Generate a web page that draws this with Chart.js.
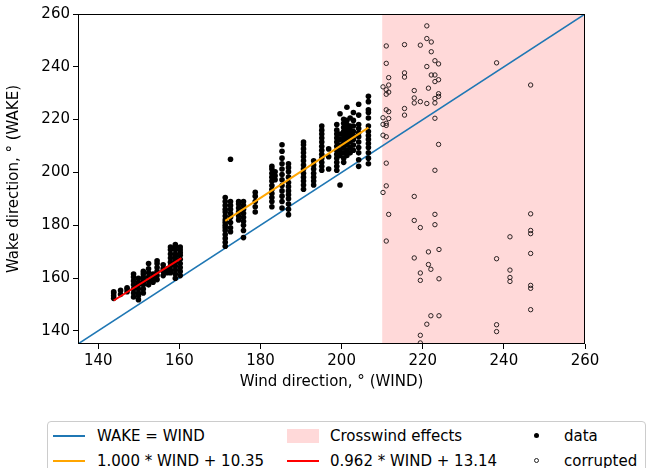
<!DOCTYPE html>
<html lang="en">
<head>
  <meta charset="UTF-8">
  <title>Wake vs wind direction</title>
  <script src="https://cdn.jsdelivr.net/npm/chart.js"></script>
  <style>
    body {
      margin: 0;
      padding: 0;
      background: #ffffff;
      font-family: 'DejaVu Sans', sans-serif;
      overflow: hidden;
    }
    .wrap {
      position: relative;
      width: 654px;
      height: 468px;
    }
    .legend {
      position: absolute;
      left: 47px;
      top: 421px;
      width: 597px;
      height: 60px;
      border: 1px solid #cccccc;
      border-radius: 4px;
      background: #ffffff;
    }
    .item {
      position: absolute;
      font-size: 15px;
      line-height: 18px;
      color: #000;
      white-space: nowrap;
    }
    .sw {
      position: absolute;
    }
  </style>
</head>
<body>
  <div class="wrap">
    <canvas id="chart" width="654" height="468"></canvas>
    <div class="legend"></div>
    <div class="sw" style="left:53px;top:435px;width:32px;height:1.5px;background:#1f77b4"></div>
    <div class="item" style="left:97px;top:427px">WAKE = WIND</div>
    <div class="sw" style="left:53px;top:460px;width:32px;height:2px;background:#ffa500"></div>
    <div class="item" style="left:97px;top:452px">1.000 * WIND + 10.35</div>
    <div class="sw" style="left:287px;top:429px;width:32px;height:14px;background:rgba(255,0,0,0.15)"></div>
    <div class="item" style="left:330px;top:427px">Crosswind effects</div>
    <div class="sw" style="left:287px;top:460px;width:32px;height:2px;background:#ff0000"></div>
    <div class="item" style="left:330px;top:452px">0.962 * WIND + 13.14</div>
    <div class="sw" style="left:534px;top:433px;width:5px;height:5px;border-radius:50%;background:#000"></div>
    <div class="item" style="left:564px;top:427px">data</div>
    <div class="sw" style="left:534px;top:458px;width:3px;height:3px;border-radius:50%;border:1px solid #222"></div>
    <div class="item" style="left:564px;top:452px">corrupted</div>
  </div>

  <script>
    // axis setup
    const axisMin = 135;
    const axisMax = 260;
    const tickValues = [140, 160, 180, 200, 220, 240, 260];
    const crosswindRange = [210, 260];

    // reference line and the two fits (endpoints)
    const identityX = [135, 260];
    const identityY = [135, 260];
    const fitHighX = [171.3, 206.6];
    const fitHighY = [181.65, 216.95];
    const fitLowX = [143.8, 160.5];
    const fitLowY = [151.48, 167.54];

    // good measurements, grouped by wind direction column
    const windColumns = [143.8, 145.5, 147.1, 148.7, 149.9, 151.1, 152.4, 153.5, 154.5, 156.0, 157.0, 157.8, 159.0, 160.2,
      171.3, 172.6, 174.6, 175.8, 178.7, 182.8, 183.6, 185.3, 186.9, 190.6, 193.1, 195.1, 196.8, 198.8,
      199.6, 200.5, 201.3, 202.1, 202.9, 204.2, 206.6];
    const wakeByColumn = [
      [152.3, 153.3, 154.3, 154.8],
      [153.8, 155.3],
      [154.8, 155.8, 156.3],
      [152.8, 154.3, 155.8, 157.4, 158.9, 160.4, 161.5],
      [151.8, 153.3, 154.3, 155.8, 157.4, 158.4, 159.9],
      [154.3, 155.8, 157.4, 158.4, 159.4, 160.4, 161.5, 162.5],
      [157.4, 158.9, 160.4, 162, 163.5, 165.5],
      [158.4, 159.9, 161.5],
      [159.4, 160.9, 162.5, 164, 165.5, 166.5],
      [160.9, 162.5, 163.5, 165],
      [162, 163.5],
      [162, 163, 164.5, 166, 167.6, 169.1, 170.7, 171.7],
      [159.9, 161.5, 163, 164.5, 166, 167.1, 168.1, 169.1, 170.7, 171.7, 172.7],
      [160.9, 162.5, 164, 165.5, 167.1, 168.6, 169.6, 170.7, 171.7],
      [172, 173.5, 175, 176.5, 178, 179, 180, 181, 182, 183.5, 185, 186, 187.5, 189, 190.5],
      [177.5, 179, 181, 183, 184.5, 186, 187.5, 189, 205],
      [182, 183.5, 185, 186.5, 188, 189],
      [175.3, 178, 180, 181.5, 183, 184.5, 186, 187.5, 189],
      [185, 187, 189, 191, 192.5],
      [187, 189, 190.5, 192, 193.5, 195, 196.7, 198.2, 199.7, 201.3, 202.3],
      [197.2, 198.7, 200.2],
      [186.5, 189, 191, 193, 195, 197.2, 199.2, 201.3, 203.3, 205.4, 208, 210.5],
      [184, 186, 188, 190, 191.5, 193, 194.6, 196.2, 198.2, 200.2, 201.8, 203.3],
      [193.6, 195.2, 196.7, 198.2, 199.7, 201.3, 202.8, 204.4, 205.9, 207.4, 208.9, 210.5, 211.5],
      [195.2, 196.7, 198.2, 199.7, 201.3, 202.8, 204.4],
      [200.8, 202.3, 203.8, 205.4, 206.9, 208.4, 209.9, 211.5, 213, 214.5, 216, 217.6],
      [201.3, 205.9, 208.9],
      [200.8, 202.3, 203.8, 205.4, 206.9, 208.4, 209.9, 211.5, 213, 214.5, 216, 218.1],
      [195.2, 206.4, 208.4, 210.4, 212.5, 214.5, 222.2],
      [203.8, 205.4, 207.4, 209.4, 210.9, 212.5, 214, 215.5, 217, 218.6, 220.1],
      [206.4, 208.4, 210.4, 211.9, 213.5, 215, 216.6, 218.1, 219.7, 224.7],
      [207.4, 209.4, 211.5, 213, 214.5, 216, 217.6, 220.6],
      [208.4, 210.4, 212.5, 214, 215.5, 217.6, 219.7, 222.7],
      [202.3, 204.8, 207.4, 209.4, 211.5, 213.5, 215, 216.6, 218.1, 221.7, 225.8],
      [203.3, 205.4, 207.4, 209.4, 210.9, 212.5, 214, 215.5, 217.6, 220.6, 222.7, 223.7, 226.8, 228.8]
    ];

    // corrupted measurements (crosswind)
    const corruptedWind = [211, 215.5, 219.4, 221, 221, 222.1, 222.1, 211, 211.6, 215.5, 215.5, 223, 223.9, 221, 222.1, 223, 223.9, 223,
      210.2, 211.6, 211, 211.6, 211, 217.9, 221.4, 223.9, 223.9, 223, 217.9, 217.9, 219.4, 221, 223,
      211, 211.6, 210.2, 211.6, 211, 215.5, 215.5, 223, 210.2, 211, 210.2, 211, 223.9, 211, 223,
      211, 210.2, 217.9, 211.6, 223, 217.9, 223, 219.4, 211, 224, 221.4, 217.9, 221.4, 222, 219.4, 219.4, 224,
      222, 224, 221, 219.4, 219.4,
      238.2, 246.6, 246.6, 241.5, 246.6, 246.6, 246.6, 238.2, 241.5, 241.5, 241.5, 246.6, 246.6, 246.6, 238.2, 238.2];
    const corruptedWake = [247.9, 248.4, 248.2, 255.5, 250.7, 249.4, 245.7, 241.3, 235.9, 237.7, 236.1, 242.3, 241.1, 240.1, 236.9, 236.9, 235.1, 234.4,
      232.4, 233.1, 231.3, 230.4, 229.6, 231, 231.9, 229.8, 228.8, 228, 228.2, 226.3, 226.8, 226.1, 226.3,
      223.7, 223, 220.7, 220.4, 218.6, 224.2, 221.7, 220.5, 218.2, 217.8, 214.1, 213.5, 210.6, 203.5, 200.8,
      194.9, 192.4, 190.9, 184.1, 184.1, 181.8, 180.2, 179.1, 174, 170.8, 169.9, 167.6, 165.1, 163.3, 161.9, 159.1, 159.7,
      145.7, 145.7, 142.5, 138.3, 135.4,
      241.5, 233.1, 184.3, 175.6, 178, 176.8, 169.3, 167.3, 163, 160.2, 158.7, 157.2, 156.1, 148, 142.3, 139.7];

    const dataPoints = windColumns.flatMap((w, i) => wakeByColumn[i].map(v => ({ x: w, y: v })));
    const corruptedPoints = corruptedWind.map((w, i) => ({ x: w, y: corruptedWake[i] }));
    const toXY = (xs, ys) => xs.map((v, i) => ({ x: v, y: ys[i] }));

    const crosswindPlugin = {
      id: 'crosswind',
      beforeDatasetsDraw(chart) {
        const { ctx, chartArea, scales } = chart;
        const x0 = scales.x.getPixelForValue(crosswindRange[0]);
        const x1 = scales.x.getPixelForValue(crosswindRange[1]);
        ctx.save();
        ctx.fillStyle = 'rgba(255,0,0,0.15)';
        ctx.fillRect(x0, chartArea.top, x1 - x0, chartArea.bottom - chartArea.top);
        ctx.restore();
      }
    };

    const framePlugin = {
      id: 'frame',
      afterDatasetsDraw(chart) {
        const { ctx, chartArea } = chart;
        ctx.save();
        ctx.strokeStyle = '#000';
        ctx.lineWidth = 1;
        ctx.strokeRect(chartArea.left + 0.5, chartArea.top + 0.5,
          chartArea.right - chartArea.left - 1, chartArea.bottom - chartArea.top - 1);
        ctx.restore();
      }
    };

    const font = { family: "'DejaVu Sans', sans-serif", size: 15 };

    const axis = (title, isX) => ({
      type: 'linear',
      min: axisMin,
      max: axisMax,
      afterBuildTicks: scale => { scale.ticks = tickValues.map(v => ({ value: v })); },
      afterFit: scale => {
        if (isX) scale.height = 48; else scale.width = 78;
      },
      grid: { drawOnChartArea: false, drawTicks: true, tickLength: 5, tickColor: '#000' },
      border: { display: false },
      ticks: { color: '#000', font: font, padding: 3, maxRotation: 0 },
      title: {
        display: true,
        text: title,
        color: '#000',
        font: font,
        padding: isX ? { top: 0, bottom: 1 } : { top: 5, bottom: 0 }
      }
    });

    new Chart(document.getElementById('chart').getContext('2d'), {
      type: 'scatter',
      data: {
        datasets: [
          {
            label: '1.000 * WIND + 10.35',
            data: toXY(fitHighX, fitHighY),
            showLine: true,
            borderColor: '#ffa500',
            borderWidth: 2,
            pointRadius: 0,
            order: 1
          },
          {
            label: '0.962 * WIND + 13.14',
            data: toXY(fitLowX, fitLowY),
            showLine: true,
            borderColor: '#ff0000',
            borderWidth: 2,
            pointRadius: 0,
            order: 1
          },
          {
            label: 'data',
            data: dataPoints,
            backgroundColor: '#000',
            borderColor: '#000',
            borderWidth: 0,
            pointRadius: 2.8,
            order: 2
          },
          {
            label: 'corrupted',
            data: corruptedPoints,
            backgroundColor: 'rgba(0,0,0,0)',
            borderColor: '#2a2222',
            borderWidth: 1,
            pointRadius: 2.2,
            order: 2
          },
          {
            label: 'WAKE = WIND',
            data: toXY(identityX, identityY),
            showLine: true,
            borderColor: '#1f77b4',
            borderWidth: 1.5,
            pointRadius: 0,
            order: 3
          }
        ]
      },
      options: {
        responsive: false,
        animation: false,
        layout: { padding: { left: 0, top: 14, right: 69, bottom: 76 } },
        plugins: {
          legend: { display: false },
          tooltip: { enabled: false }
        },
        scales: {
          x: axis('Wind direction, \u00b0 (WIND)', true),
          y: axis('Wake direction, \u00b0 (WAKE)', false)
        }
      },
      plugins: [crosswindPlugin, framePlugin]
    });
  </script>
</body>
</html>
